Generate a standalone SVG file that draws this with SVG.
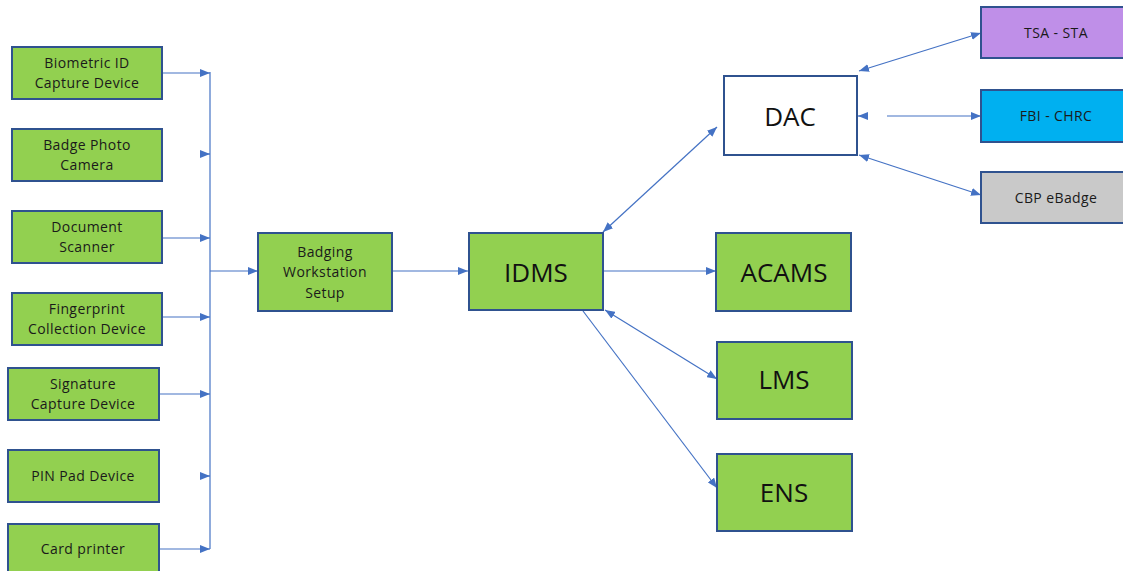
<svg xmlns="http://www.w3.org/2000/svg" width="1123" height="571" viewBox="0 0 1123 571">
<style>
.box{fill:#92D050;stroke:#2F528F;stroke-width:2}
.t{font-family:"Open Sans","Liberation Sans",sans-serif;font-size:14px;fill:#1a1a1a;text-anchor:middle;letter-spacing:0.4px}
.big{font-family:"Open Sans","Liberation Sans",sans-serif;font-size:26px;fill:#111;text-anchor:middle}
.c{stroke:#4472C4;stroke-width:1.2;fill:none}
</style>
<defs>
<marker id="ah" markerWidth="10" markerHeight="8" refX="10" refY="4" orient="auto-start-reverse" markerUnits="userSpaceOnUse">
<path d="M0,0 L10,4 L0,8 z" fill="#4472C4"/>
</marker>
</defs>
<rect width="1123" height="571" fill="#fff"/>
<g id="connectors">
<path class="c" d="M210,72 V549"/>
<path class="c" d="M162,73 H210" marker-end="url(#ah)"/>
<path class="c" d="M201,154 H210" marker-end="url(#ah)"/>
<path class="c" d="M162,238 H210" marker-end="url(#ah)"/>
<path class="c" d="M162,317 H210" marker-end="url(#ah)"/>
<path class="c" d="M160,394 H210" marker-end="url(#ah)"/>
<path class="c" d="M201,476 H210" marker-end="url(#ah)"/>
<path class="c" d="M160,549 H210" marker-end="url(#ah)"/>
<path class="c" d="M210,271 H258" marker-end="url(#ah)"/>
<path class="c" d="M392,271 H468" marker-end="url(#ah)"/>
<path class="c" d="M603,271 H716" marker-end="url(#ah)"/>
<path class="c" d="M603,232 L717,127" marker-start="url(#ah)" marker-end="url(#ah)"/>
<path class="c" d="M605,310 L717,379" marker-start="url(#ah)" marker-end="url(#ah)"/>
<path class="c" d="M583,311 L717,488" marker-end="url(#ah)"/>
<path class="c" d="M859,71 L981,33" marker-start="url(#ah)" marker-end="url(#ah)"/>
<path class="c" d="M887,116 H981" marker-end="url(#ah)"/>
<path class="c" d="M867,116 H858" marker-end="url(#ah)"/>
<path class="c" d="M859,155 L981,195" marker-start="url(#ah)" marker-end="url(#ah)"/>
</g>
<g id="biometric"><rect class="box" x="12" y="47" width="150" height="52"/><text class="t" x="87" y="68">Biometric ID</text><text class="t" x="87" y="88">Capture Device</text></g>
<g id="photo"><rect class="box" x="12" y="129" width="150" height="52"/><text class="t" x="87" y="150">Badge Photo</text><text class="t" x="87" y="170">Camera</text></g>
<g id="scanner"><rect class="box" x="12" y="211" width="150" height="52"/><text class="t" x="87" y="232">Document</text><text class="t" x="87" y="252">Scanner</text></g>
<g id="fingerprint"><rect class="box" x="12" y="293" width="150" height="52"/><text class="t" x="87" y="314">Fingerprint</text><text class="t" x="87" y="334">Collection Device</text></g>
<g id="signature"><rect class="box" x="8" y="368" width="151" height="52"/><text class="t" x="83" y="389">Signature</text><text class="t" x="83" y="409">Capture Device</text></g>
<g id="pinpad"><rect class="box" x="8" y="450" width="151" height="52"/><text class="t" x="83" y="481">PIN Pad Device</text></g>
<g id="printer"><rect class="box" x="8" y="524" width="151" height="60"/><text class="t" x="83" y="554">Card printer</text></g>
<g id="workstation"><rect class="box" x="258" y="233" width="134" height="78"/><text class="t" x="325" y="257">Badging</text><text class="t" x="325" y="277">Workstation</text><text class="t" x="325" y="298">Setup</text></g>
<g id="idms"><rect class="box" x="469" y="233" width="134" height="77"/><text class="big" x="536" y="282">IDMS</text></g>
<g id="acams"><rect class="box" x="716" y="233" width="135" height="78"/><text class="big" x="784" y="282">ACAMS</text></g>
<g id="lms"><rect class="box" x="717" y="342" width="135" height="77"/><text class="big" x="784" y="389">LMS</text></g>
<g id="ens"><rect class="box" x="717" y="454" width="135" height="77"/><text class="big" x="784" y="502">ENS</text></g>
<g id="dac"><rect x="724" y="76" width="133" height="79" fill="#fff" stroke="#2F528F" stroke-width="2"/><text class="big" x="790" y="126">DAC</text></g>
<g id="tsa"><rect x="981" y="7" width="150" height="51" fill="#BF8FE8" stroke="#2F528F" stroke-width="2"/><text class="t" x="1056" y="38">TSA - STA</text></g>
<g id="fbi"><rect x="981" y="90" width="150" height="52" fill="#00B0F0" stroke="#2F528F" stroke-width="2"/><text class="t" x="1056" y="121">FBI - CHRC</text></g>
<g id="cbp"><rect x="981" y="172" width="150" height="51" fill="#C9C9C9" stroke="#2F528F" stroke-width="2"/><text class="t" x="1056" y="203">CBP eBadge</text></g>
</svg>
